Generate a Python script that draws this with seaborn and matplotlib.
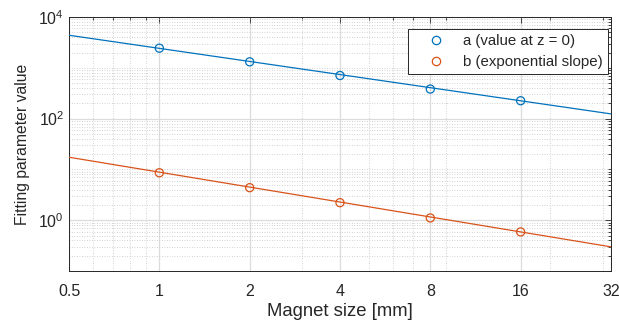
import numpy as np
import pandas as pd
import matplotlib
matplotlib.use("Agg")
import matplotlib.pyplot as plt
import matplotlib.ticker as mticker
from matplotlib.lines import Line2D
import seaborn as sns

# Data
sizes = [1, 2, 4, 8, 16]
a_vals = [2434, 1312, 706, 382, 225]
b_vals = [8.61, 4.38, 2.22, 1.11, 0.59]
fit_x = [0.5, 32]
fit_a = [4375, 124]
fit_b = [17.4, 0.30]
x_ticks = [0.5, 1, 2, 4, 8, 16, 32]
x_tick_labels = ["0.5", "1", "2", "4", "8", "16", "32"]
y_ticks = [1, 100, 10000]
labels = ["a (value at z = 0)", "b (exponential slope)"]

blue = "#0072BD"
orange = "#D95319"
ink = "#262626"

sns.set_style("white")
plt.rcParams["font.family"] = ["Liberation Sans", "DejaVu Sans"]
plt.rcParams["mathtext.fontset"] = "custom"
plt.rcParams["mathtext.rm"] = "Liberation Sans"
plt.rcParams["mathtext.it"] = "Liberation Sans:italic"

fig = plt.figure(figsize=(6.19, 3.27), dpi=100)
ax = fig.add_axes([0.1115, 0.171, 0.8755, 0.777])

pts = pd.DataFrame({
    "size": sizes * 2,
    "value": a_vals + b_vals,
    "param": [labels[0]] * len(sizes) + [labels[1]] * len(sizes),
})
fits = pd.DataFrame({
    "size": fit_x * 2,
    "value": fit_a + fit_b,
    "param": [labels[0]] * 2 + [labels[1]] * 2,
})

ax.set_xscale("log")
ax.set_yscale("log")

sns.lineplot(data=fits, x="size", y="value", hue="param", palette=[blue, orange],
             ax=ax, legend=False, linewidth=0.9, zorder=3)
sns.scatterplot(data=pts, x="size", y="value", hue="param", palette=[blue, orange],
                ax=ax, marker="o", s=34, linewidth=0.9, legend=False, zorder=4)
coll = ax.collections[-1]
fcs = coll.get_facecolors()
coll.set_edgecolors(fcs)
coll.set_facecolors("none")

ax.set_xlim(0.5, 32)
ax.set_ylim(0.1, 1e4)

ax.xaxis.set_major_locator(mticker.FixedLocator(x_ticks))
ax.xaxis.set_major_formatter(mticker.FixedFormatter(x_tick_labels))
ax.xaxis.set_minor_locator(mticker.LogLocator(base=10, subs=np.arange(2, 10)))
ax.xaxis.set_minor_formatter(mticker.NullFormatter())

ax.yaxis.set_major_locator(mticker.FixedLocator(y_ticks))
ax.yaxis.set_major_formatter(mticker.LogFormatterSciNotation())
ax.yaxis.set_minor_locator(mticker.LogLocator(base=10, subs=np.arange(1, 10), numticks=20))
ax.yaxis.set_minor_formatter(mticker.NullFormatter())

ax.tick_params(which="both", direction="in", top=True, right=True, colors=ink,
               width=0.6)
ax.tick_params(which="major", length=4, labelsize=11.5)
ax.tick_params(which="minor", length=2)
ax.tick_params(axis="x", which="major", pad=9)

ax.grid(which="major", color="#dcdcdc", linestyle="-", linewidth=0.9)
ax.grid(which="minor", color="#c4c4c4", linestyle=(0, (1, 2)), linewidth=0.6)
ax.set_axisbelow(True)

for sp in ax.spines.values():
    sp.set_visible(True)
    sp.set_color(ink)
    sp.set_linewidth(0.7)

ax.set_xlabel("Magnet size [mm]", fontsize=13.3, color=ink, labelpad=3)
ax.set_ylabel("Fitting parameter value", fontsize=11.3, color=ink, labelpad=6)

handles = [
    Line2D([], [], marker="o", linestyle="none", markerfacecolor="none",
           markeredgecolor=c, markersize=6, markeredgewidth=0.9)
    for c in (blue, orange)
]
leg = ax.legend(handles, labels,
                loc="upper right", bbox_to_anchor=(0.9945, 0.953), borderaxespad=0,
                fontsize=10.8, frameon=True, fancybox=False, edgecolor=ink,
                handletextpad=0.3, borderpad=0.35, labelspacing=0.45, handlelength=3.0)
leg.get_frame().set_linewidth(0.7)
leg.get_frame().set_alpha(1)

fig.savefig("out.png", dpi=100)
